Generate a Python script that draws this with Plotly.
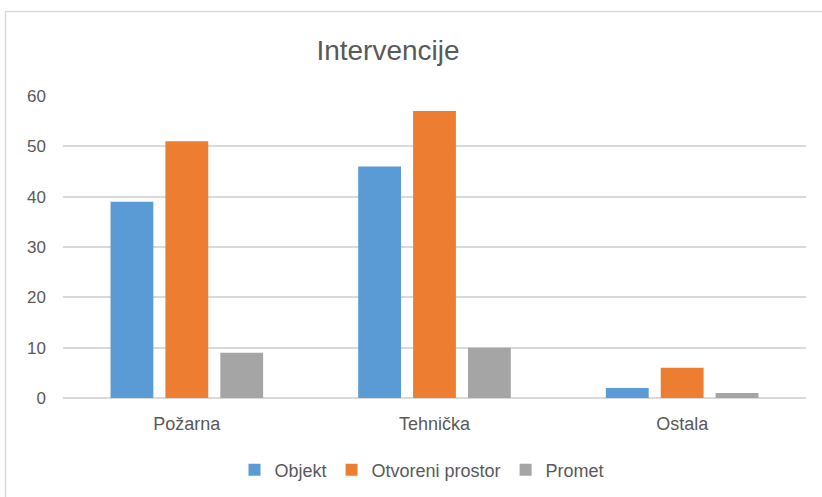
import plotly.graph_objects as go

categories = ["Požarna", "Tehnička", "Ostala"]
objekt = [39, 46, 2]
otvoreni = [51, 57, 6]
promet = [9, 10, 1]
series_names = ["Objekt", "Otvoreni prostor", "Promet"]
colors = ["#5B9BD5", "#ED7D31", "#A5A5A5"]

font_family = "Liberation Sans, Arial, sans-serif"

fig = go.Figure()
for name, vals, col in zip(series_names, [objekt, otvoreni, promet], colors):
    fig.add_trace(go.Bar(x=categories, y=vals, name=name, marker=dict(color=col, line=dict(width=0))))

W, H = 822, 497
l, r, t, b = 63, 16, 96, 99
pw, ph = W - l - r, H - t - b

def px2x(px):
    return (px - l) / pw

def py2y(py):
    return (H - b - py) / ph

fig.update_layout(
    width=W, height=H,
    margin=dict(l=l, r=r, t=t, b=b, autoexpand=False),
    paper_bgcolor="white", plot_bgcolor="white",
    barmode="group", bargap=0.335, bargroupgap=0.22,
    font=dict(family=font_family, color="#595959", size=17),
    title=dict(text="Intervencije", x=px2x(388), xref="paper", xanchor="center",
               y=1 - 50 / H, yanchor="middle",
               font=dict(size=28, color="#595959", family=font_family)),
    xaxis=dict(showgrid=False, showline=False, ticks="", automargin=False,
               tickfont=dict(size=18, color="#595959"), ticklabelstandoff=13),
    yaxis=dict(range=[0, 60], dtick=10, showgrid=True, gridcolor="#D9D9D9", gridwidth=1.5,
               zeroline=True, zerolinecolor="#D9D9D9", zerolinewidth=1.5, automargin=False,
               ticks="", tickfont=dict(size=17, color="#595959"), ticklabelstandoff=16),
    legend=dict(orientation="h", x=px2x(422), xanchor="center", y=py2y(470), yanchor="middle",
                font=dict(size=18, color="#595959"), itemwidth=30, traceorder="normal"),
    showlegend=True,
    shapes=[dict(type="rect", xref="paper", yref="paper",
                 x0=px2x(5.5), x1=px2x(830), y0=py2y(505), y1=py2y(11.5),
                 line=dict(color="#D9D9D9", width=1.5), fillcolor="rgba(0,0,0,0)", layer="below")],
)

fig.write_html("out.html", config={"displayModeBar": False},
               post_script="document.body.style.margin='0';")
